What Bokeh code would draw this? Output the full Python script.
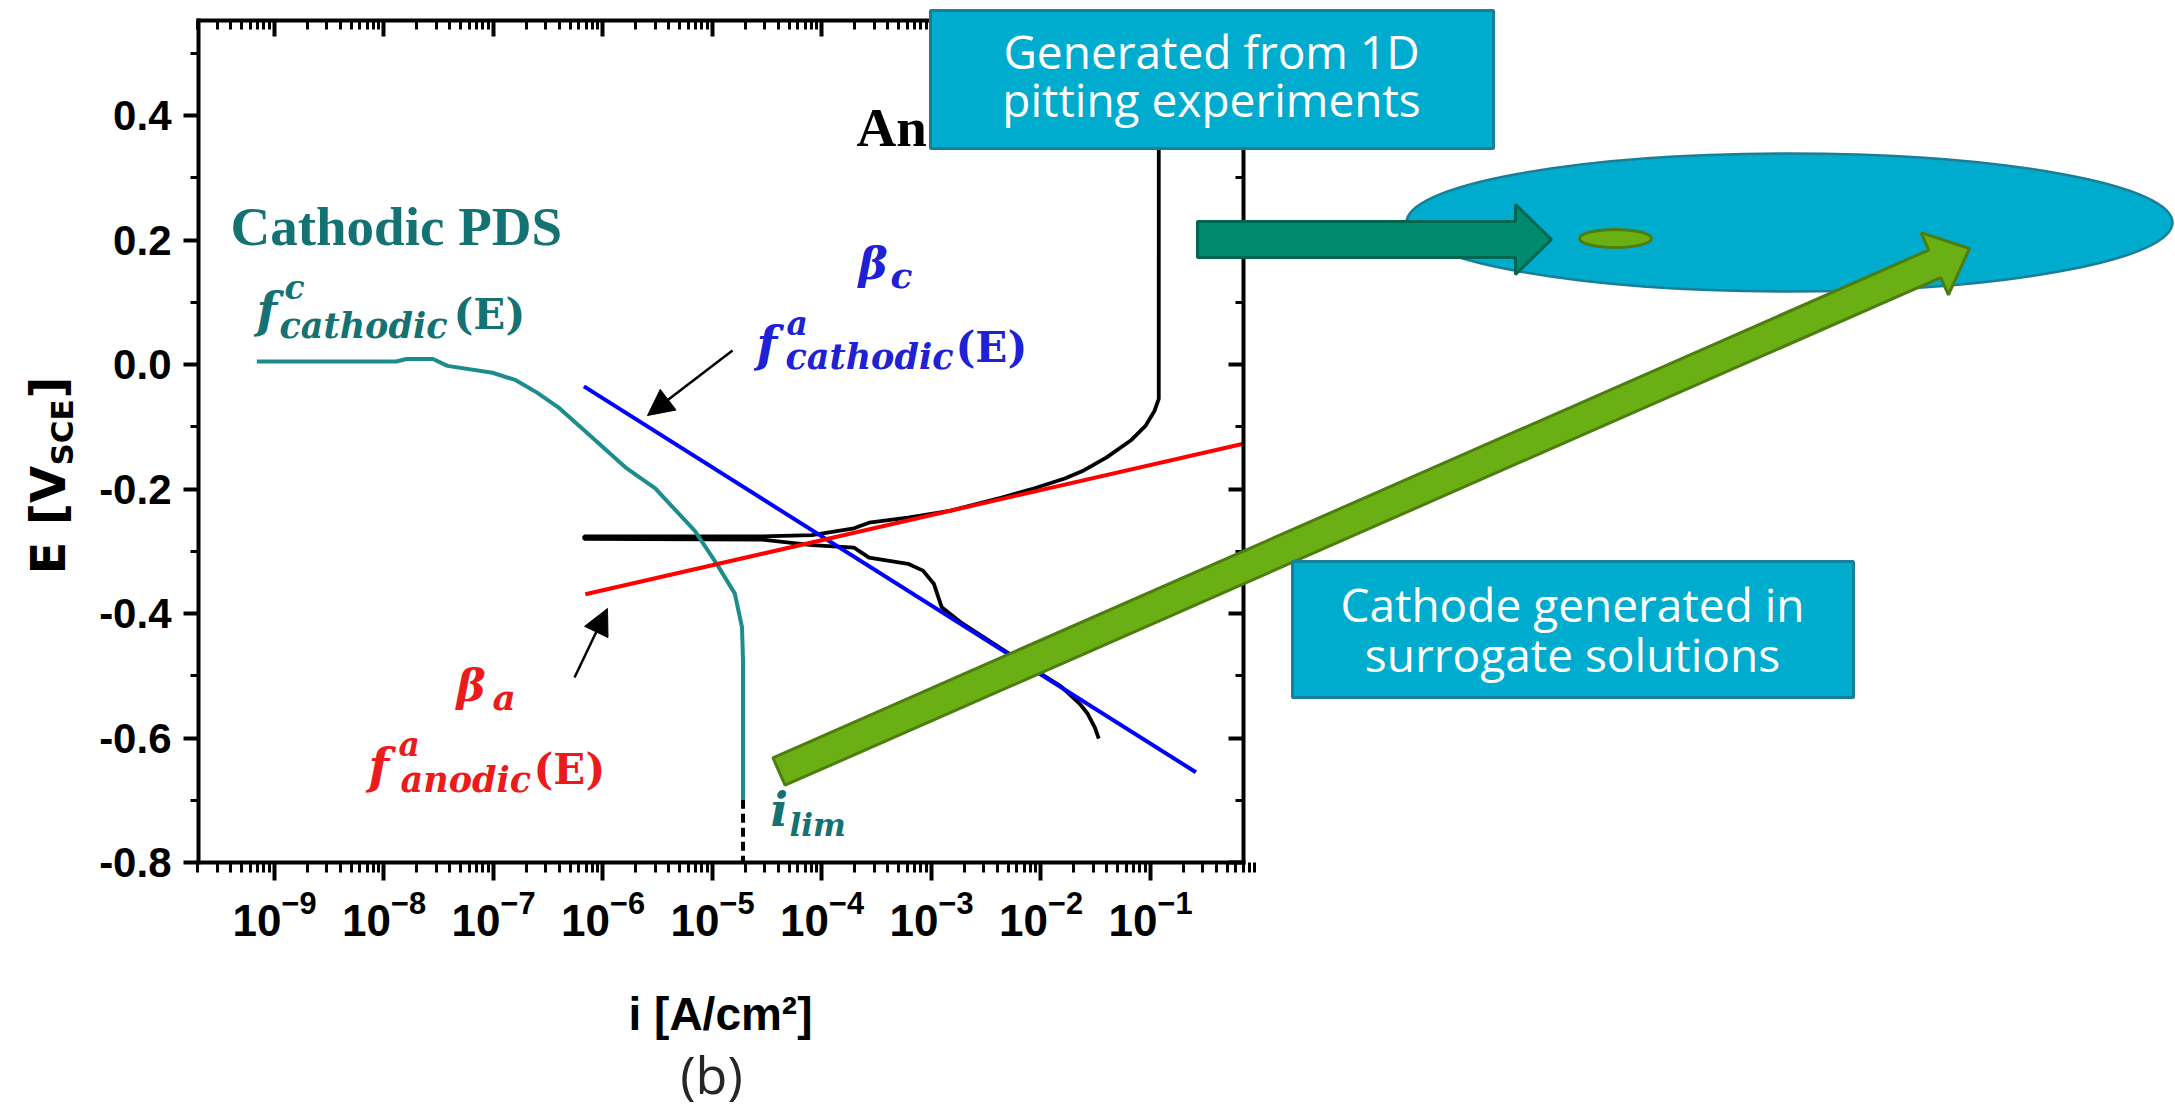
import numpy as np
from bokeh.plotting import figure
from bokeh.models import (Range1d, LinearScale, LogAxis, LinearAxis, FixedTicker,
                          CustomJSTickFormatter, LogTickFormatter, Label, BoxAnnotation,
                          Arrow, NormalHead)
from bokeh.embed import file_html
from bokeh.resources import INLINE

# ---------------- data ----------------
# cathodic potentiodynamic scan (teal), i in A/cm2, E in V_SCE
cathodic_pds_i = [6.9e-10, 1.3e-8, 1.6e-8, 2.8e-8, 3.8e-8, 9.8e-8, 1.6e-7, 2.5e-7,
                  4.0e-7, 6.3e-7, 1.6e-6, 3.0e-6, 6.9e-6, 1.1e-5, 1.6e-5, 1.86e-5,
                  1.9e-5, 1.9e-5]
cathodic_pds_E = [0.005, 0.005, 0.009, 0.009, -0.002, -0.013, -0.025, -0.045,
                  -0.070, -0.101, -0.165, -0.199, -0.267, -0.321, -0.368, -0.422,
                  -0.476, -0.699]
# limiting current (dashed black)
i_lim_i = [1.9e-5, 1.9e-5]
i_lim_E = [-0.699, -0.80]
# cathodic Tafel line (blue)
tafel_cathodic_i = [6.7e-7, 0.26]
tafel_cathodic_E = [-0.035, -0.655]
# anodic Tafel line (red), ends at the right edge of the axes
tafel_anodic_i = [6.9e-7, 0.706]
tafel_anodic_E = [-0.369, -0.127]
# measured polarization curve (black)
anodic_pds_i = [3.37e-2, 3.10e-2, 2.67e-2, 2.26e-2, 1.52e-2, 4.30e-3, 1.85e-3, 1.24e-3,
                1.05e-3, 8.36e-4, 6.10e-4, 2.69e-4, 1.96e-4, 8.11e-5, 2.78e-5, 6.73e-7,
                6.73e-7, 2.78e-5, 8.11e-5, 1.96e-4, 2.69e-4, 6.10e-4, 1.47e-3, 4.30e-3,
                8.59e-3, 1.65e-2, 2.46e-2, 3.98e-2, 6.59e-2, 9.04e-2, 0.109, 0.119, 0.119]
anodic_pds_E = [-0.601, -0.583, -0.561, -0.545, -0.517, -0.456, -0.414, -0.390,
                -0.352, -0.331, -0.320, -0.310, -0.294, -0.290, -0.281, -0.280,
                -0.276, -0.276, -0.274, -0.263, -0.254, -0.246, -0.235, -0.214,
                -0.199, -0.183, -0.170, -0.149, -0.122, -0.098, -0.074, -0.055, 0.553]

x_major_ticks = [1e-9, 1e-8, 1e-7, 1e-6, 1e-5, 1e-4, 1e-3, 1e-2, 1e-1]
x_minor_ticks = [m * 10.0 ** k for k in range(-10, 0) for m in range(2, 10)]
y_major_ticks = [-0.8, -0.6, -0.4, -0.2, 0.0, 0.2, 0.4]
y_minor_ticks = [-0.7, -0.5, -0.3, -0.1, 0.1, 0.3, 0.5]

# axes limits of the plotted panel
LOG_I_LO, E_LO, E_HI = -9.694, -0.8, 0.553

# ---------------- layout (page pixels) ----------------
W, H = 2175, 1110
F_LEFT, F_RIGHT, F_TOP, F_BOTTOM = 198, 1243, 20, 862
DECADE_PX = 109.5
LOG_I_HI = LOG_I_LO + (F_RIGHT - F_LEFT) / DECADE_PX
VOLT_PX = (F_BOTTOM - F_TOP) / (E_HI - E_LO)
X_LO, X_HI = 10 ** LOG_I_LO, 10 ** LOG_I_HI
BASELINE_FIX = 0.34   # Label draws its alphabetic baseline ~0.34 em low

TEAL_LINE, TEAL_TEXT = "#1C8C8C", "#147272"
BLUE_LINE, BLUE_TEXT = "#0000FF", "#2020D4"
RED_LINE, RED_TEXT = "#FF0000", "#EC1B1B"
BOX_FILL, BOX_LINE = "#00ACCE", "#16809A"
GREEN_FILL, GREEN_LINE = "#6AAF14", "#4C7D0E"

# the plotting frame spans the whole canvas; the axes are placed at fixed locations
x_range = Range1d(10 ** (LOG_I_LO - F_LEFT / DECADE_PX),
                  10 ** (LOG_I_HI + (W - F_RIGHT) / DECADE_PX))
y_range = Range1d(E_LO - (H - F_BOTTOM) / VOLT_PX, E_HI + F_TOP / VOLT_PX)

p = figure(width=W, height=H, x_axis_type="log", x_range=x_range, y_range=y_range,
           x_axis_location=None, y_axis_location=None,
           output_backend="svg", toolbar_location=None, title=None,
           min_border=0, min_border_left=0, min_border_right=0,
           min_border_top=0, min_border_bottom=0)
p.extra_x_ranges = {"px": Range1d(0, W)}
p.extra_y_ranges = {"py": Range1d(H, 0)}
p.extra_x_scales = {"px": LinearScale()}
p.extra_y_scales = {"py": LinearScale()}
p.xgrid.visible = False
p.ygrid.visible = False
p.outline_line_color = None
p.background_fill_color = "white"
p.border_fill_color = "white"


def style_axis(ax, tick_in, tick_out, minor_in, minor_out):
    ax.axis_line_width = 4
    ax.axis_line_color = "black"
    ax.axis_line_cap = "square"
    ax.major_tick_line_width = 4
    ax.minor_tick_line_width = 3
    ax.major_tick_line_color = "black"
    ax.minor_tick_line_color = "black"
    ax.major_tick_in = tick_in
    ax.major_tick_out = tick_out
    ax.minor_tick_in = minor_in
    ax.minor_tick_out = minor_out


# bottom (labelled) log axis
xb = LogAxis(fixed_location=E_LO, bounds=(X_LO, X_HI),
             ticker=FixedTicker(ticks=x_major_ticks, minor_ticks=x_minor_ticks),
             formatter=LogTickFormatter())
style_axis(xb, 0, 18, 0, 10)
xb.major_label_text_font = "Liberation Sans"
xb.major_label_text_font_style = "bold"
xb.major_label_text_font_size = "44px"
xb.major_label_text_color = "black"
xb.major_label_standoff = 9
p.add_layout(xb, "below")

# left (labelled) linear axis
yl = LinearAxis(fixed_location=X_LO, bounds=(E_LO, E_HI),
                ticker=FixedTicker(ticks=y_major_ticks, minor_ticks=y_minor_ticks),
                formatter=CustomJSTickFormatter(code="return tick.toFixed(1)"))
style_axis(yl, 0, 15, 0, 8)
yl.major_label_text_font = "Liberation Sans"
yl.major_label_text_font_style = "bold"
yl.major_label_text_font_size = "42px"
yl.major_label_text_color = "black"
yl.major_label_standoff = 12
p.add_layout(yl, "left")

# top and right mirror axes, ticks pointing inwards, no labels
xt = LogAxis(fixed_location=E_HI, bounds=(X_LO, X_HI),
             ticker=FixedTicker(ticks=x_major_ticks, minor_ticks=x_minor_ticks),
             formatter=CustomJSTickFormatter(code="return ''"),
             major_label_text_font_size="1px", major_label_standoff=0)
style_axis(xt, 16, 0, 9, 0)
p.add_layout(xt, "above")
yr = LinearAxis(fixed_location=X_HI, bounds=(E_LO, E_HI),
                ticker=FixedTicker(ticks=y_major_ticks, minor_ticks=y_minor_ticks),
                formatter=CustomJSTickFormatter(code="return ''"),
                major_label_text_font_size="1px", major_label_standoff=0)
style_axis(yr, 15, 0, 8, 0)
p.add_layout(yr, "right")

# ---------------- curves ----------------
p.line(anodic_pds_i, anodic_pds_E, line_color="black", line_width=3.8)
p.line(cathodic_pds_i, cathodic_pds_E, line_color=TEAL_LINE, line_width=4)
p.line(i_lim_i, i_lim_E, line_color="black", line_width=4, line_dash="9 5")
p.line(tafel_cathodic_i, tafel_cathodic_E, line_color=BLUE_LINE, line_width=4)
p.line(tafel_anodic_i, tafel_anodic_E, line_color=RED_LINE, line_width=4)


# ---------------- annotations (page-pixel coordinates) ----------------
def lab(text, x, y, size, color, font="DejaVu Serif", style="bold italic",
        align="left", angle=0.0, level="annotation"):
    if angle:
        x = x - BASELINE_FIX * size
    else:
        y = y - BASELINE_FIX * size
    p.add_layout(Label(text=text, x=x, y=y, x_range_name="px", y_range_name="py",
                       text_font=font, text_font_style=style,
                       text_font_size=f"{size}px", text_color=color,
                       text_align=align, text_baseline="alphabetic", angle=angle,
                       level=level))


def shape(xs, ys, fill, line, lw):
    r = p.patch([float(v) for v in xs], [float(v) for v in ys],
                x_range_name="px", y_range_name="py",
                fill_color=fill, line_color=line, line_width=lw)
    r.level = "overlay"


def oval(cx, cy, w, h, fill, line, lw):
    r = p.ellipse(x=[cx], y=[cy], width=[w], height=[h],
                  x_range_name="px", y_range_name="py",
                  fill_color=fill, line_color=line, line_width=lw)
    r.level = "overlay"


def box(l, r, t, b):
    p.add_layout(BoxAnnotation(left=l, right=r, top=t, bottom=b,
                               x_range_name="px", y_range_name="py",
                               fill_color=BOX_FILL, fill_alpha=1.0,
                               line_color=BOX_LINE, line_alpha=1.0, line_width=3,
                               level="overlay"))


# axis titles
lab("E [V", 64, 574, 48, "black", "DejaVu Sans", "bold", angle=np.pi / 2)
lab("SCE", 72, 465, 31, "black", "DejaVu Sans", "bold", angle=np.pi / 2)
lab("]", 64, 398, 48, "black", "DejaVu Sans", "bold", angle=np.pi / 2)
lab("i [A/cm²]", 720, 1029, 46, "black", "Liberation Sans", "bold", align="center")
lab("(b)", 711, 1091, 52, "#262626", "Open Sans", "normal", align="center")

# teal labels
lab("Cathodic PDS", 230, 245, 55, TEAL_TEXT, "Liberation Serif", "bold")
lab("f", 256, 326, 48, TEAL_TEXT)
lab("c", 284, 298, 33, TEAL_TEXT)
lab("cathodic", 279, 337, 35, TEAL_TEXT)
lab("(E)", 453, 328, 42, TEAL_TEXT, style="bold")
lab("i", 770, 825, 46, TEAL_TEXT)
lab("lim", 789, 835, 31, TEAL_TEXT)

# blue labels
lab("β", 858, 278, 44, BLUE_TEXT)
lab("c", 890, 287, 36, BLUE_TEXT)
lab("f", 756, 360, 48, BLUE_TEXT)
lab("a", 786, 334, 33, BLUE_TEXT)
lab("cathodic", 785, 368, 35, BLUE_TEXT)
lab("(E)", 955, 361, 42, BLUE_TEXT, style="bold")

# red labels
lab("β", 456, 700, 44, RED_TEXT)
lab("a", 492, 709, 36, RED_TEXT)
lab("f", 368, 782, 48, RED_TEXT)
lab("a", 398, 755, 33, RED_TEXT)
lab("anodic", 400, 791, 35, RED_TEXT)
lab("(E)", 533, 783, 42, RED_TEXT, style="bold")

lab("An", 856, 146, 55, "black", "Liberation Serif", "bold")

# pointer arrows
for (xs0, ys0, xe, ye) in [(732, 350, 647, 415), (574, 677, 607, 608)]:
    p.add_layout(Arrow(end=NormalHead(size=26, fill_color="black", line_color="black"),
                       x_start=xs0, y_start=ys0, x_end=xe, y_end=ye,
                       x_range_name="px", y_range_name="py",
                       line_color="black", line_width=2.5))

# big ellipse + small ellipse
oval(1789, 222, 766, 138, BOX_FILL, "#1A7E96", 2.5)
oval(1615, 238, 72, 18, GREEN_FILL, GREEN_LINE, 3)

# teal block arrow
shape([1197, 1515, 1515, 1551, 1515, 1515, 1197],
      [221, 221, 204, 239, 274, 257, 257], "#008A6E", "#00664F", 3)

# green block arrow
tail = np.array([778.5, 771.0])
tip = np.array([1969.0, 248.0])
L = np.hypot(*(tip - tail))
u = (tip - tail) / L
n = np.array([u[1], -u[0]])
base = tail + (L - 38) * u
pts = [tail + 15 * n, base + 15 * n, base + 34 * n, tip, base - 34 * n, base - 15 * n, tail - 15 * n]
shape([q[0] for q in pts], [q[1] for q in pts], GREEN_FILL, GREEN_LINE, 3)

# text boxes
box(930, 1493, 10, 148)
lab("Generated from 1D", 1211, 66, 46, "white", "Open Sans", "normal", align="center", level="overlay")
lab("pitting experiments", 1211, 114, 46, "white", "Open Sans", "normal", align="center", level="overlay")
box(1292, 1853, 561, 697)
lab("Cathode generated in", 1572, 619, 46, "white", "Open Sans", "normal", align="center", level="overlay")
lab("surrogate solutions", 1572, 669, 46, "white", "Open Sans", "normal", align="center", level="overlay")

open("out.html", "w").write(file_html(p, INLINE))
